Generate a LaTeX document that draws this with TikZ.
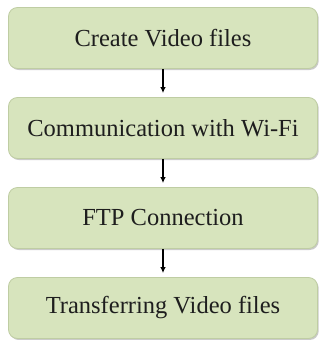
\documentclass[tikz,border=0pt]{standalone}
\usepackage{fontspec}
\setmainfont{Liberation Serif}
\usetikzlibrary{arrows.meta,shadows}
\definecolor{boxfill}{HTML}{D7E4BD}
\definecolor{boxedge}{HTML}{BFCDA3}
\definecolor{textcol}{HTML}{1E1E1E}
\tikzset{
  stepbox/.style={draw=boxedge, line width=0.8pt, fill=boxfill, rounded corners=9pt,
    minimum width=309pt, minimum height=61pt, inner sep=0pt,
    font=\fontsize{24.5}{28}\selectfont, text=textcol,
    drop shadow={shadow xshift=1.2pt, shadow yshift=-1.5pt, opacity=0.35, fill=black!60}},
  flow/.style={line width=1.1pt, -{Latex[length=6pt,width=5.5pt]}, shorten >=4pt}
}
\begin{document}
\begin{tikzpicture}[x=1pt,y=-1pt]
  \useasboundingbox (0,0) rectangle (320,340);
  \node[stepbox] (b1) at (163,38)  {Create Video files};
  \node[stepbox] (b2) at (163,128) {Communication with Wi-Fi};
  \node[stepbox] (b3) at (163,218) {FTP Connection};
  \node[stepbox] (b4) at (163,308) {Transferring Video files};
  \draw[flow] (b1.south) -- (b2.north);
  \draw[flow] (b2.south) -- (b3.north);
  \draw[flow] (b3.south) -- (b4.north);
\end{tikzpicture}
\end{document}
